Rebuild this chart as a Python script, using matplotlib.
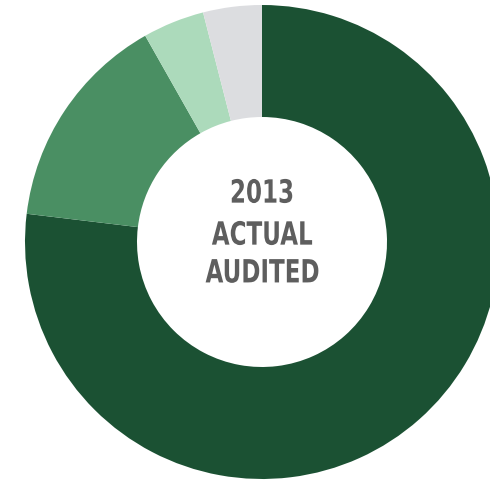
import matplotlib
matplotlib.use("Agg")
import matplotlib.pyplot as plt
from matplotlib.textpath import TextPath
from matplotlib.patches import PathPatch
from matplotlib.font_manager import FontProperties
from matplotlib.transforms import Affine2D

# slice shares (percent), clockwise from 12 o'clock
labels = ["Dark", "Medium", "Light", "Grey"]
values = [76.9, 14.9, 4.2, 4.0]
colours = ["#1b5133", "#4a8f63", "#acdabb", "#dcdde0"]
centre_lines = ["2013", "ACTUAL", "AUDITED"]

fig = plt.figure(figsize=(4.9, 4.8), dpi=100)
ax = fig.add_axes([0, 0, 1, 1])

# work in pixel units: centre of the ring sits at (262, 242) from top-left
R = 237
ax.pie(values, colors=colours, radius=R, startangle=90, counterclock=False,
       wedgeprops=dict(width=R - 125, linewidth=0))
ax.set_xlim(-262, 490 - 262)
ax.set_ylim(-(480 - 242), 242)
ax.set_aspect("equal")
ax.axis("off")

# centre label, drawn as condensed text paths (no narrow font installed)
prop = FontProperties(family="DejaVu Sans", weight="bold")
line_y = [51, 9, -29]
squeeze = 0.72
for line, yc in zip(centre_lines, line_y):
    tp = TextPath((0, 0), line, size=32, prop=prop)
    ext = tp.get_extents()
    cx = (ext.x0 + ext.x1) / 2
    cy = (ext.y0 + ext.y1) / 2
    tr = Affine2D().translate(-cx, -cy).scale(squeeze, 1).translate(0, yc)
    ax.add_patch(PathPatch(tr.transform_path(tp), facecolor="#5e5e5e",
                           edgecolor="none"))

fig.savefig("out.png", dpi=100)
